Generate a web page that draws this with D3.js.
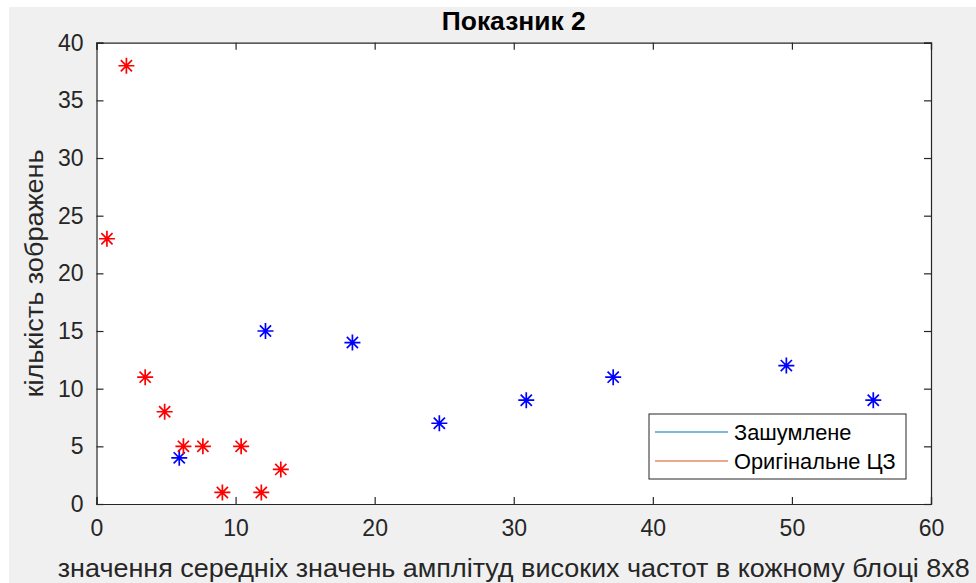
<!DOCTYPE html>
<html>
<head>
<meta charset="utf-8">
<script src="https://cdn.jsdelivr.net/npm/d3@7"></script>
<style>
  html, body { margin: 0; padding: 0; background: #fff; }
  text { font-family: "Liberation Sans", Arial, sans-serif; }
</style>
</head>
<body>
<div id="chart"></div>
<script>
/* values */
const noisyX = [5.95, 12.15, 18.4, 24.65, 30.9, 37.15, 49.6, 55.85];
const noisyY = [4, 15, 14, 7, 9, 11, 12, 9];
const origX = [0.75, 2.15, 3.5, 4.9, 6.25, 7.65, 9.05, 10.4, 11.85, 13.25];
const origY = [23, 38, 11, 8, 5, 5, 1, 5, 1, 3];
const xTicks = [0, 10, 20, 30, 40, 50, 60];
const yTicks = [0, 5, 10, 15, 20, 25, 30, 35, 40];
const seriesNames = ['Зашумлене', 'Оригінальне ЦЗ'];

const width = 976
const height = 583
const margin = { left: 96.5, right: 45, top: 42.7, bottom: 79 }
const axisColor = '#262626'
const tickLen = 7

const svg = d3.select('#chart')
  .append('svg')
  .attr('width', width)
  .attr('height', height)

// figure background (matlab grey)
svg.append('rect')
  .attr('x', 9).attr('y', 7)
  .attr('width', width - 9).attr('height', height - 7)
  .attr('fill', '#f0f0f0')

const x = d3.scaleLinear().domain([0, 60]).range([margin.left, width - margin.right])
const y = d3.scaleLinear().domain([0, 40]).range([height - margin.bottom, margin.top])

svg.append('rect')
  .attr('x', x(0)).attr('y', y(40))
  .attr('width', x(60) - x(0)).attr('height', y(0) - y(40))
  .attr('fill', '#fff')

// axes, ticks pointing inward on all four sides
const bottomAxis = d3.axisBottom(x).tickValues(xTicks).tickSize(-tickLen).tickPadding(16)
const leftAxis = d3.axisLeft(y).tickValues(yTicks).tickSize(-tickLen).tickPadding(13)

const gx = svg.append('g')
  .attr('transform', `translate(0, ${y(0)})`)
  .call(bottomAxis)
const gy = svg.append('g')
  .attr('transform', `translate(${x(0)}, 0)`)
  .call(leftAxis)
const gTop = svg.append('g')
  .attr('transform', `translate(0, ${y(40)})`)
  .call(d3.axisTop(x).tickValues(xTicks).tickSize(-tickLen).tickFormat(''))
const gRight = svg.append('g')
  .attr('transform', `translate(${x(60)}, 0)`)
  .call(d3.axisRight(y).tickValues(yTicks).tickSize(-tickLen).tickFormat(''))

;[gx, gy, gTop, gRight].forEach(g => {
  g.select('.domain').attr('stroke', axisColor).attr('stroke-width', 1.2)
  g.selectAll('.tick line').attr('stroke', axisColor).attr('stroke-width', 1.2)
  g.selectAll('.tick text')
    .attr('fill', axisColor)
    .style('font-size', '23px')
    .style('font-family', '"Liberation Sans", Arial, sans-serif')
})

// matlab style '*' marker: plus plus cross
const star = {
  draw(context, size) {
    const r = Math.sqrt(size) / 2
    const d = r * 0.7
    context.moveTo(-r, 0); context.lineTo(r, 0)
    context.moveTo(0, -r); context.lineTo(0, r)
    context.moveTo(-d, -d); context.lineTo(d, d)
    context.moveTo(-d, d); context.lineTo(d, -d)
  }
}
const marker = d3.symbol().type(star).size(256)

function drawPoints(xs, ys, color) {
  svg.append('g')
    .selectAll('path')
    .data(xs.map((v, i) => [v, ys[i]]))
    .enter()
    .append('path')
    .attr('d', marker)
    .attr('transform', d => `translate(${x(d[0])}, ${y(d[1])})`)
    .attr('fill', 'none')
    .attr('stroke', color)
    .attr('stroke-width', 1.7)
}
drawPoints(noisyX, noisyY, '#0000ff')
drawPoints(origX, origY, '#ff0000')

// title and labels
svg.append('text')
  .attr('x', (x(0) + x(60)) / 2)
  .attr('y', 30)
  .attr('text-anchor', 'middle')
  .attr('textLength', 144)
  .attr('lengthAdjust', 'spacingAndGlyphs')
  .style('font-size', '25px')
  .style('font-weight', 'bold')
  .attr('fill', '#000')
  .text('Показник 2')

svg.append('text')
  .attr('x', (x(0) + x(60)) / 2)
  .attr('y', 577)
  .attr('text-anchor', 'middle')
  .attr('textLength', 912)
  .attr('lengthAdjust', 'spacingAndGlyphs')
  .style('font-size', '25px')
  .attr('fill', axisColor)
  .text('значення середніх значень амплітуд високих частот в кожному блоці 8х8')

svg.append('text')
  .attr('transform', `translate(43, ${(y(0) + y(40)) / 2}) rotate(-90)`)
  .attr('text-anchor', 'middle')
  .attr('textLength', 248)
  .attr('lengthAdjust', 'spacingAndGlyphs')
  .style('font-size', '25px')
  .attr('fill', axisColor)
  .text('кількість зображень')

// legend (lines only, like the original)
const legendColors = ['#0072bd', '#d95319']
const legend = svg.append('g').attr('transform', 'translate(649, 414)')
legend.append('rect')
  .attr('width', 257).attr('height', 65)
  .attr('fill', '#fff')
  .attr('stroke', axisColor)
  .attr('stroke-width', 1)
seriesNames.forEach((name, i) => {
  const ly = 18 + i * 29
  legend.append('line')
    .attr('x1', 6).attr('x2', 79)
    .attr('y1', ly).attr('y2', ly)
    .attr('stroke', legendColors[i])
    .attr('stroke-width', 1.2)
  legend.append('text')
    .attr('x', 85).attr('y', ly + 8)
    .style('font-size', '21.8px')
    .attr('fill', '#000')
    .text(name)
})
</script>
</body>
</html>
